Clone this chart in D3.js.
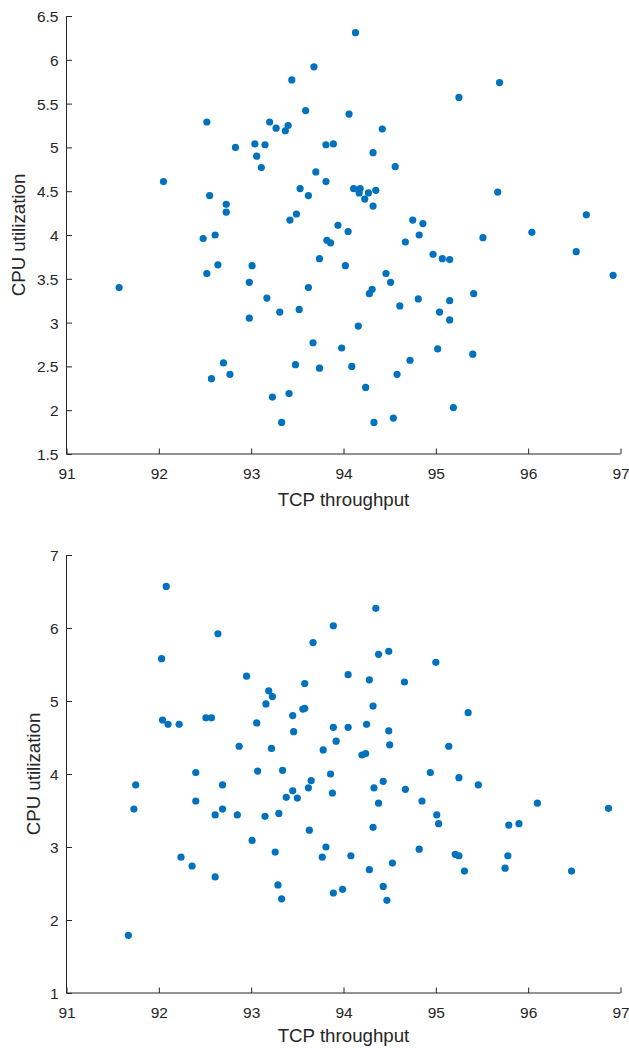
<!DOCTYPE html>
<html>
<head>
<meta charset="utf-8">
<script src="https://cdn.jsdelivr.net/npm/d3@7"></script>
<style>
  html, body { margin: 0; padding: 0; background: #fff; }
  svg text { font-family: "Liberation Sans", Arial, Helvetica, sans-serif; fill: #262626; }
</style>
</head>
<body>
<div id="chart"></div>
<script>
// top panel: TCP throughput vs CPU utilization
const tcpTop = [92.05, 92.52, 92.55, 92.73, 92.73, 92.48, 92.61, 92.83, 93.04, 93.06,
  93.11, 93.15, 93.20, 93.27, 93.37, 93.40, 93.44, 93.68, 93.59, 93.70,
  93.81, 93.89, 93.81, 93.53, 93.62, 93.49, 93.42, 93.94, 93.82, 93.86,
  94.13, 95.69, 95.25, 94.06, 94.42, 94.32, 94.56, 94.11, 94.18, 94.17,
  94.23, 94.27, 94.35, 94.32, 95.67, 96.63, 94.05, 94.75, 94.86, 94.82,
  94.67, 95.51, 96.04, 94.97, 95.07, 95.15, 96.52, 96.92, 94.02, 94.46,
  94.51, 94.31, 94.28, 94.81, 95.15, 95.41, 94.61, 95.04, 95.15, 94.16,
  93.98, 95.02, 95.40, 94.72, 94.09, 94.58, 94.24, 95.19, 94.54, 94.33,
  91.57, 92.52, 92.64, 93.01, 92.98, 92.98, 93.17, 93.31, 93.52, 93.62,
  93.74, 93.67, 92.70, 92.77, 92.57, 93.48, 93.74, 93.23, 93.41, 93.33];
const cpuTop = [4.61, 5.29, 4.45, 4.35, 4.26, 3.96, 4.00, 5.00, 5.04, 4.90,
  4.77, 5.03, 5.29, 5.22, 5.19, 5.25, 5.77, 5.92, 5.42, 4.72,
  5.03, 5.04, 4.61, 4.53, 4.45, 4.24, 4.17, 4.11, 3.94, 3.91,
  6.31, 5.74, 5.57, 5.38, 5.21, 4.94, 4.78, 4.53, 4.53, 4.48,
  4.41, 4.48, 4.51, 4.33, 4.49, 4.23, 4.04, 4.17, 4.13, 4.00,
  3.92, 3.97, 4.03, 3.78, 3.73, 3.72, 3.81, 3.54, 3.65, 3.56,
  3.46, 3.38, 3.33, 3.27, 3.25, 3.33, 3.19, 3.12, 3.03, 2.96,
  2.71, 2.70, 2.64, 2.57, 2.50, 2.41, 2.26, 2.03, 1.91, 1.86,
  3.40, 3.56, 3.66, 3.65, 3.46, 3.05, 3.28, 3.12, 3.15, 3.40,
  3.73, 2.77, 2.54, 2.41, 2.36, 2.52, 2.48, 2.15, 2.19, 1.86];

// bottom panel
const tcpBottom = [92.08, 92.03, 92.64, 92.04, 92.10, 92.22, 92.51, 92.57, 92.95, 93.06,
  92.87, 93.16, 93.19, 93.23, 93.22, 93.45, 93.46, 93.56, 93.58, 93.58,
  93.67, 93.89, 93.89, 93.92, 93.78, 94.35, 94.38, 94.49, 95.00, 94.05,
  94.28, 94.66, 94.32, 95.35, 94.05, 94.25, 94.49, 94.50, 95.14, 94.20,
  94.24, 93.86, 93.88, 94.94, 95.25, 95.46, 94.43, 94.33, 94.67, 94.38,
  94.85, 96.10, 96.87, 95.01, 95.03, 94.32, 95.79, 95.90, 94.82, 94.08,
  95.21, 95.25, 95.78, 94.28, 94.53, 95.31, 95.75, 96.47, 93.89, 93.99,
  94.43, 94.47, 91.75, 91.73, 91.67, 92.40, 92.40, 92.24, 92.36, 92.61,
  92.61, 92.69, 92.69, 92.85, 93.01, 93.07, 93.15, 93.30, 93.26, 93.29,
  93.33, 93.34, 93.38, 93.45, 93.50, 93.62, 93.65, 93.63, 93.81, 93.77];
const cpuBottom = [6.57, 5.58, 5.92, 4.74, 4.68, 4.68, 4.77, 4.77, 5.34, 4.70,
  4.38, 4.96, 5.14, 5.06, 4.35, 4.80, 4.58, 4.89, 4.90, 5.24,
  5.80, 6.03, 4.64, 4.45, 4.33, 6.27, 5.64, 5.68, 5.53, 5.36,
  5.29, 5.26, 4.93, 4.84, 4.64, 4.68, 4.59, 4.40, 4.38, 4.26,
  4.28, 4.00, 3.74, 4.02, 3.95, 3.85, 3.90, 3.81, 3.79, 3.60,
  3.63, 3.60, 3.53, 3.44, 3.32, 3.27, 3.30, 3.32, 2.97, 2.88,
  2.90, 2.88, 2.88, 2.69, 2.78, 2.67, 2.71, 2.67, 2.37, 2.42,
  2.46, 2.27, 3.85, 3.52, 1.79, 4.02, 3.63, 2.86, 2.74, 2.59,
  3.44, 3.85, 3.52, 3.44, 3.09, 4.04, 3.42, 3.46, 2.93, 2.48,
  2.29, 4.05, 3.68, 3.77, 3.67, 3.81, 3.91, 3.23, 3.00, 2.86];

const xTicks = [91, 92, 93, 94, 95, 96, 97];
const yTicksTop = [1.5, 2, 2.5, 3, 3.5, 4, 4.5, 5, 5.5, 6, 6.5];
const yTicksBottom = [1, 2, 3, 4, 5, 6, 7];

const width = 629;
const height = 1048;
const dotColor = "#0072BD";
const axisColor = "#262626";

const svg = d3.select("#chart").append("svg")
  .attr("width", width)
  .attr("height", height);

function drawPanel(xs, ys, yTicks, box) {
  const x = d3.scaleLinear().domain([91, 97]).range([box.left, box.right]);
  const y = d3.scaleLinear().domain([yTicks[0], yTicks[yTicks.length - 1]]).range([box.bottom, box.top]);

  const g = svg.append("g");

  // points
  g.append("g")
    .selectAll("circle")
    .data(xs.map((v, i) => [v, ys[i]]))
    .enter()
    .append("circle")
    .attr("cx", d => x(d[0]))
    .attr("cy", d => y(d[1]))
    .attr("r", 3.6)
    .attr("fill", dotColor);

  // x axis, ticks pointing inward
  const xAxis = g.append("g")
    .attr("transform", "translate(0," + box.bottom + ")")
    .call(d3.axisBottom(x).tickValues(xTicks).tickSize(-5.5).tickPadding(0).tickFormat(d3.format("d")));
  xAxis.select(".domain").attr("stroke", axisColor).attr("d", "M" + box.left + ",0H" + box.right);
  xAxis.selectAll(".tick line").attr("stroke", axisColor);
  xAxis.selectAll(".tick text")
    .attr("y", 24.5).attr("dy", null)
    .attr("font-size", 15.5);

  // y axis
  const yAxis = g.append("g")
    .attr("transform", "translate(" + box.left + ",0)")
    .call(d3.axisLeft(y).tickValues(yTicks).tickSize(-5.5).tickPadding(0).tickFormat(d3.format("~g")));
  yAxis.select(".domain").attr("stroke", axisColor).attr("d", "M0," + box.bottom + "V" + box.top);
  yAxis.selectAll(".tick line").attr("stroke", axisColor);
  yAxis.selectAll(".tick text")
    .attr("x", -8).attr("dy", "0.36em")
    .attr("font-size", 15.5);
  g.selectAll(".domain, .tick line").attr("stroke-width", 1);

  // labels
  g.append("text")
    .attr("x", (box.left + box.right) / 2)
    .attr("y", box.bottom + box.xLabelGap)
    .attr("text-anchor", "middle")
    .attr("font-size", 18.7)
    .text("TCP throughput");

  g.append("text")
    .attr("transform", "translate(" + box.yLabelX + "," + (box.top + box.bottom) / 2 + ") rotate(-90)")
    .attr("text-anchor", "middle")
    .attr("font-size", 18.7)
    .text("CPU utilization");
}

drawPanel(tcpTop, cpuTop, yTicksTop,
  { left: 66.5, right: 620.5, top: 16, bottom: 454, xLabelGap: 52, yLabelX: 25 });
drawPanel(tcpBottom, cpuBottom, yTicksBottom,
  { left: 66.5, right: 620.5, top: 555, bottom: 993, xLabelGap: 49, yLabelX: 40 });
</script>
</body>
</html>
